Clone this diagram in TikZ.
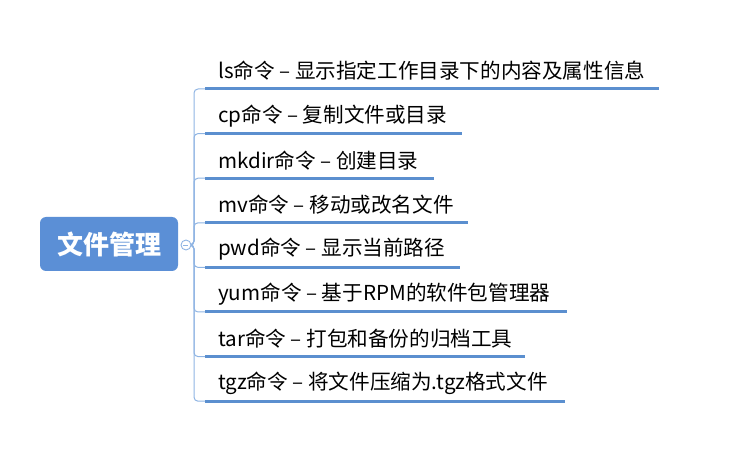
\documentclass[tikz,border=0pt]{standalone}
\usepackage{fontspec}
\newfontfamily\cjk{Noto Sans CJK SC}
\definecolor{rootblue}{HTML}{5B8FD6}
\definecolor{lineblue}{HTML}{5B8FCF}
\definecolor{trunkblue}{HTML}{8FB4E3}
\tikzset{
  rootbox/.style={fill=rootblue, draw=none, rounded corners=6pt, minimum width=138pt, minimum height=54pt, text=white, font=\cjk\bfseries\fontsize{26}{29}\selectfont, inner sep=0pt},
  leaf/.style={anchor=west, inner sep=0pt, text=black, font=\cjk\fontsize{20.6}{24}\selectfont},
  uline/.style={draw=lineblue, line width=3pt},
  trunk/.style={draw=trunkblue, line width=1pt, rounded corners=4pt},
  collapse/.style={circle, draw=trunkblue, fill=white, line width=0.9pt, minimum size=10pt, inner sep=0pt}
}
\begin{document}
\begin{tikzpicture}[x=1pt,y=-1pt]
\useasboundingbox (0,0) rectangle (745,473);
\node[rootbox] (root) at (109,244) {文件管理};
\coordinate (j) at (191,245);
\foreach \i/\y/\e/\t in {
  1/89/659/{ls命令 – 显示指定工作目录下的内容及属性信息},
  2/133.6/462/{cp命令 – 复制文件或目录},
  3/178.2/434/{mkdir命令 – 创建目录},
  4/222.8/468/{mv命令 – 移动或改名文件},
  5/267.4/460/{pwd命令 – 显示当前路径},
  6/312/567/{yum命令 – 基于RPM的软件包管理器},
  7/356.6/525/{tar命令 – 打包和备份的归档工具},
  8/401.2/565/{tgz命令 – 将文件压缩为.tgz格式文件}}{
  \coordinate (s\i) at (205,\y);
  \coordinate (e\i) at (\e,\y);
  \node[leaf] (t\i) at (218,\y-18) {\t};
  \draw[trunk] (j) -- ++(3,0) |- (s\i);
  \draw[uline] (s\i) -- (e\i);
}
\node[collapse] (c) at (186,245) {};
\draw[trunkblue, line width=0.9pt] (c.west) ++(2.5,0) -- ++(5,0);
\end{tikzpicture}
\end{document}
